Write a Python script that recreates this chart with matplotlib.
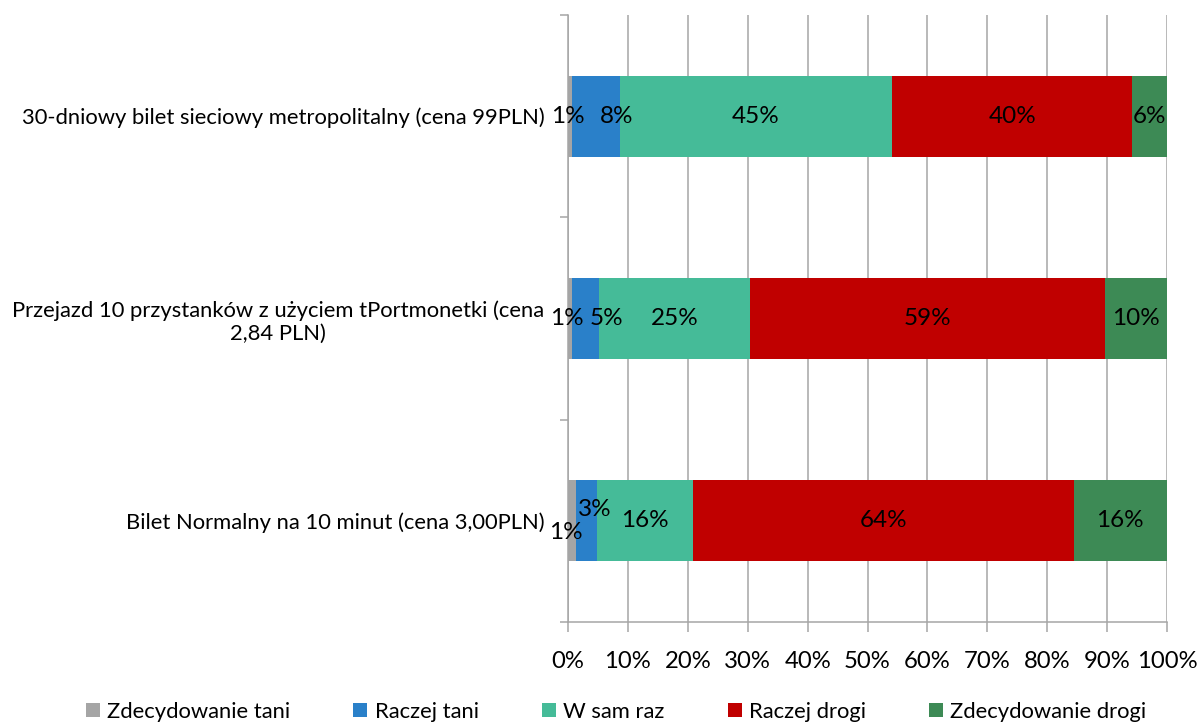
import matplotlib
matplotlib.use("Agg")
import matplotlib.pyplot as plt
from matplotlib.lines import Line2D

plt.rcParams['font.family'] = ['Lato', 'DejaVu Sans']

categories = [
    "Bilet Normalny na 10 minut (cena 3,00PLN)",
    "Przejazd 10 przystanków z użyciem tPortmonetki (cena\n2,84 PLN)",
    "30-dniowy bilet sieciowy metropolitalny (cena 99PLN)",
]
series_names = ["Zdecydowanie tani", "Raczej tani", "W sam raz", "Raczej drogi", "Zdecydowanie drogi"]
zdecydowanie_tani = [1.4, 0.6, 0.6]
raczej_tani = [3.4, 4.6, 8.1]
w_sam_raz = [16.0, 25.2, 45.4]
raczej_drogi = [63.6, 59.2, 40.1]
zdecydowanie_drogi = [15.6, 10.4, 5.8]
x_ticks = [0, 10, 20, 30, 40, 50, 60, 70, 80, 90, 100]

series = [zdecydowanie_tani, raczej_tani, w_sam_raz, raczej_drogi, zdecydowanie_drogi]
colors = ['#A5A5A5', '#2A80C9', '#45BB98', '#C00000', '#3D8A55']

# pixel nudges for labels on narrow segments: (series index, bar index) -> (dx, dy)
label_nudge = {
    (0, 2): (-2, 0), (1, 2): (21, 0),
    (0, 1): (-3, 0), (1, 1): (21, 0),
    (0, 0): (-6, -12), (1, 0): (8, 11),
}

fig = plt.figure(figsize=(11.99, 7.26), dpi=100)
ax = fig.add_axes([568 / 1199, (726 - 622) / 726, (1167 - 568) / 1199, (622 - 15) / 726])

ypos = list(range(len(categories)))
left = [0.0] * len(categories)
for si, (vals, col) in enumerate(zip(series, colors)):
    ax.barh(ypos, vals, left=left, height=0.4, color=col, zorder=2, label=series_names[si])
    for bi, v in enumerate(vals):
        cx = left[bi] + v / 2
        dx, dy = label_nudge.get((si, bi), (0, 0))
        ax.annotate(f"{v:.0f}%", (cx, ypos[bi]), xytext=(dx, dy), textcoords='offset pixels',
                    ha='center', va='center', fontsize=17.5, color='black', zorder=3)
    left = [l + v for l, v in zip(left, vals)]

ax.set_xlim(0, 100)
ax.set_ylim(-0.5, len(categories) - 0.5)
ax.set_xticks(x_ticks)
ax.set_xticklabels([f"{t}%" for t in x_ticks])
ax.set_yticks(ypos)
ax.set_yticklabels(categories, multialignment='center')
ax.set_yticks([-0.5, 0.5, 1.5, 2.5], minor=True)

ax.xaxis.grid(True, color='#A6A6A6', linewidth=1.1, zorder=0)
ax.set_axisbelow(True)
for s in ['top', 'right']:
    ax.spines[s].set_visible(False)
for s in ['left', 'bottom']:
    ax.spines[s].set_color('#A6A6A6')
    ax.spines[s].set_linewidth(1.1)

ax.tick_params(axis='x', direction='out', length=7, width=1.1, color='#A6A6A6',
               pad=14, labelsize=17.2)
ax.tick_params(axis='y', which='major', length=0, pad=17, labelsize=15.8)
ax.tick_params(axis='y', which='minor', direction='out', length=6, width=1.1, color='#A6A6A6')

handles = [Line2D([], [], marker='s', linestyle='none', markersize=10.5, color=c,
                  markeredgewidth=0) for c in colors]
fig.legend(handles, series_names, loc='center', bbox_to_anchor=(0.514, (726 - 712) / 726),
           ncol=5, frameon=False, fontsize=15.8, handlelength=0.6, handletextpad=0.35,
           columnspacing=2.9)

fig.savefig("out.png", dpi=100)
